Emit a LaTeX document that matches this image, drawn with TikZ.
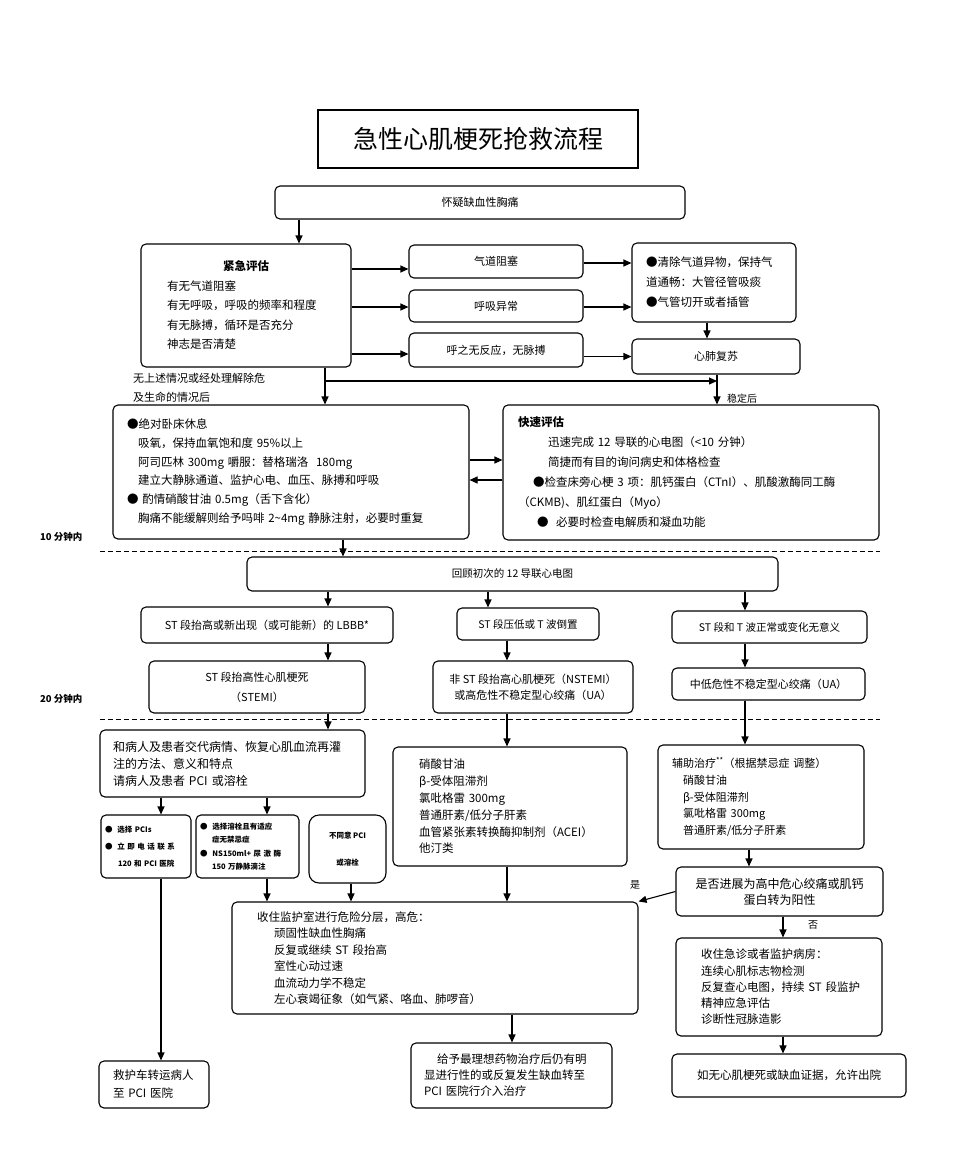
\documentclass[tikz,border=0pt]{standalone}
\usepackage{fontspec}
\setmainfont{Noto Sans CJK SC}
\usetikzlibrary{arrows.meta}

\tikzset{
  box/.style={draw, line width=1.1pt, rounded corners=5pt, inner sep=0pt, align=center, font=\fontsize{11}{16}\selectfont},
  lbox/.style={box, align=left},
  arr/.style={line width=1.1pt, -{Triangle[length=8pt,width=7pt]}},
  cut/.style={line width=1pt, dash pattern=on 5pt off 3pt},
  lbl/.style={inner sep=0pt, font=\fontsize{10}{12}\selectfont},
}

\begin{document}
\begin{tikzpicture}[x=1pt,y=1pt,yscale=-1,xscale=1]
        \useasboundingbox (0,0) rectangle (958,1152);

        % Title
        \node[draw, line width=1.1pt, minimum width=320, minimum height=58, inner sep=0pt, font=\fontsize{25}{30}\selectfont] (title) at (478,139) {急性心肌梗死抢救流程};

        % Top row
        \node[box, minimum width=410, minimum height=33] (chest) at (480,202.5) {怀疑缺血性胸痛};
        \node[lbox, minimum width=210, minimum height=123, text width=158, font=\fontsize{11.5}{19.5}\selectfont] (urgent) at (246,305.5)
          {\makebox[\linewidth]{\bfseries 紧急评估}\\有无气道阻塞\\有无呼吸，呼吸的频率和程度\\有无脉搏，循环是否充分\\神志是否清楚};
        \node[box, minimum width=174, minimum height=33] (airway) at (496,261.5) {气道阻塞};
        \node[box, minimum width=174, minimum height=32] (breath) at (496,306) {呼吸异常};
        \node[box, minimum width=174, minimum height=34] (noresp) at (496,350) {呼之无反应，无脉搏};
        \node[lbox, minimum width=164, minimum height=79, text width=136, font=\fontsize{11.5}{20}\selectfont] (clear) at (714,282.5)
          {●清除气道异物，保持气\\道通畅：大管径管吸痰\\●气管切开或者插管};
        \node[box, minimum width=168, minimum height=35] (cpr) at (716,356.5) {心肺复苏};

        % Text Node
        \node[lbl, anchor=west, align=left, font=\fontsize{11}{19}\selectfont] (okay) at (133,387.5) {无上述情况或经处理解除危\\及生命的情况后};
        \node[lbl, anchor=west] (stab) at (727,399) {稳定后};

        % Second row
        \node[lbox, minimum width=356, minimum height=134, text width=328, font=\fontsize{11.5}{18.8}\selectfont] (rest) at (291,472)
          {●绝对卧床休息\\
           \hspace*{11pt}吸氧，保持血氧饱和度 95\%以上\\
           \hspace*{11pt}阿司匹林 300mg 嚼服：替格瑞洛~~180mg\\
           \hspace*{11pt}建立大静脉通道、监护心电、血压、脉搏和呼吸\\
           ●~酌情硝酸甘油 0.5mg（舌下含化）\\
           \hspace*{11pt}胸痛不能缓解则给予吗啡 2\textasciitilde 4mg 静脉注射，必要时重复};
        \node[lbox, minimum width=376, minimum height=135, text width=346, font=\fontsize{11.5}{20}\selectfont] (quick) at (691,472.5)
          {\textbf{快速评估}\\
           \hspace*{30pt}迅速完成 12 导联的心电图（<10 分钟）\\
           \hspace*{30pt}简捷而有目的询问病史和体格检查\\
           \hspace*{15pt}●检查床旁心梗 3 项：肌钙蛋白（CTnI）、肌酸激酶同工酶\\
           （CKMB)、肌红蛋白（Myo）\\
           \hspace*{19pt}●~~必要时检查电解质和凝血功能};

        % Time marks
        \node[lbl, anchor=west, font=\bfseries\fontsize{9.5}{12}\selectfont] (ten) at (40,537) {10 分钟内};
        \node[lbl, anchor=west, font=\bfseries\fontsize{9.5}{12}\selectfont] (twenty) at (40,699) {20 分钟内};
        \draw[cut] (100,551) -- (880,551);
        \draw[cut] (100,719) -- (880,719);

        % ECG rows
        \node[box, minimum width=531, minimum height=34, font=\fontsize{10.5}{12}\selectfont] (review) at (512.5,574) {回顾初次的 12 导联心电图};
        \node[box, minimum width=252, minimum height=36] (stup) at (267,625) {ST 段抬高或新出现（或可能新）的 LBBB*};
        \node[box, minimum width=142, minimum height=32, font=\fontsize{10.5}{12}\selectfont] (stdown) at (528,624) {ST 段压低或 T 波倒置};
        \node[box, minimum width=195, minimum height=32, font=\fontsize{10.5}{12}\selectfont] (stnorm) at (769.5,627) {ST 段和 T 波正常或变化无意义};
        \node[box, minimum width=216, minimum height=52, font=\fontsize{11}{20}\selectfont] (stemi) at (257,687) {ST 段抬高性心肌梗死\\（STEMI）};
        \node[box, minimum width=200, minimum height=52] (nstemi) at (533,687) {非 ST 段抬高心肌梗死（NSTEMI）\\或高危性不稳定型心绞痛（UA）};
        \node[box, minimum width=193, minimum height=32] (ua) at (768.5,684) {中低危性不稳定型心绞痛（UA）};

        % Treatment rows
        \node[lbox, minimum width=265, minimum height=67, text width=239, font=\fontsize{12}{17}\selectfont] (talk) at (232.5,763.5)
          {和病人及患者交代病情、恢复心肌血流再灌\\注的方法、意义和特点\\请病人及患者 PCI 或溶栓};
        \node[lbox, minimum width=90, minimum height=63, text width=82, font=\bfseries\fontsize{7.5}{17}\selectfont] (pci) at (146,846.5)
          {●~~选择 PCIs\\●~~立 即 电 话 联 系\\\hspace*{13pt}120 和 PCI 医院};
        \node[lbox, minimum width=103, minimum height=63, text width=95, font=\bfseries\fontsize{7.5}{13.5}\selectfont] (lysis) at (247.5,846.5)
          {●~~选择溶栓且有适应\\\hspace*{12pt}症无禁忌症\\●~~NS150ml+ 尿 激 酶\\\hspace*{12pt}150 万静脉滴注};
        \node[box, rounded corners=10pt, minimum width=77, minimum height=68, font=\bfseries\fontsize{7.5}{27}\selectfont] (refuse) at (347.5,849) {不同意 PCI\\或溶栓};
        \node[lbox, minimum width=234, minimum height=119, text width=182, font=\fontsize{11.5}{16.8}\selectfont] (drugs) at (510,806.5)
          {硝酸甘油\\β-受体阻滞剂\\氯吡格雷 300mg\\普通肝素/低分子肝素\\血管紧张素转换酶抑制剂（ACEI）\\他汀类};
        \node[lbox, minimum width=206, minimum height=104, text width=178, font=\fontsize{11}{16.75}\selectfont] (aux) at (761,797)
          {辅助治疗\textsuperscript{**}（根据禁忌症 调整）\\
           \hspace*{11pt}硝酸甘油\\\hspace*{11pt}β-受体阻滞剂\\\hspace*{11pt}氯吡格雷 300mg\\\hspace*{11pt}普通肝素/低分子肝素};
        \node[box, minimum width=207, minimum height=49, font=\fontsize{12}{16}\selectfont] (progress) at (779.5,891.5) {是否进展为高中危心绞痛或肌钙\\蛋白转为阳性};

        % Bottom rows
        \node[lbox, minimum width=406, minimum height=112, text width=356, font=\fontsize{11.5}{16.5}\selectfont] (monitor) at (435,958)
          {收住监护室进行危险分层，高危：\\
           \hspace*{17pt}顽固性缺血性胸痛\\\hspace*{17pt}反复或继续 ST 段抬高\\\hspace*{17pt}室性心动过速\\
           \hspace*{17pt}血流动力学不稳定\\\hspace*{17pt}左心衰竭征象（如气紧、咯血、肺啰音）};
        \node[lbox, minimum width=206, minimum height=98, text width=156, font=\fontsize{11.5}{16.25}\selectfont] (er) at (779,987)
          {收住急诊或者监护病房：\\连续心肌标志物检测\\反复查心电图，持续~ST~段监护\\精神应急评估\\诊断性冠脉造影};
        \node[lbox, minimum width=201, minimum height=65, text width=175, font=\fontsize{11.5}{16}\selectfont] (optimal) at (511.5,1075.5)
          {\hspace*{13pt}给予最理想药物治疗后仍有明\\显进行性的或反复发生缺血转至\\PCI 医院行介入治疗};
        \node[box, minimum width=234, minimum height=43, font=\fontsize{11.5}{14}\selectfont] (final) at (789,1075.5) {如无心肌梗死或缺血证据，允许出院};
        \node[lbox, minimum width=110, minimum height=47, text width=82, font=\fontsize{11.5}{18}\selectfont] (ambul) at (154,1084.5) {救护车转运病人\\至 PCI 医院};

        % Text Node
        \node[lbl] (yes) at (635,885) {是};
        \node[lbl] (no) at (813,925) {否};

        %Straight Lines
        \draw[arr] (chest.south -| 299,0) -- (urgent.north -| 299,0);
        \draw[arr] (urgent.east |- 0,269) -- (airway.west |- 0,269);
        \draw[arr] (urgent.east |- 0,307) -- (breath.west |- 0,307);
        \draw[arr] (urgent.east |- 0,354) -- (noresp.west |- 0,354);
        \draw[arr] (airway.east |- 0,263) -- (clear.west |- 0,263);
        \draw[arr] (breath.east |- 0,307) -- (clear.west |- 0,307);
        \draw[arr] (noresp.east |- cpr.west) -- (cpr.west);
        \draw[arr] (clear.south -| 707,0) -- (cpr.north -| 707,0);
        \draw[arr] (urgent.south -| 325,0) -- (rest.north -| 325,0);
        \coordinate (split) at (325,381);
        \draw[arr] (split) -- (split -| 717,0);
        \draw[arr] (cpr.south -| 717,0) -- (quick.north -| 717,0);
        \draw[arr] (rest.east |- 0,460) -- (quick.west |- 0,460);
        \draw[arr] (quick.west |- 0,480) -- (rest.east |- 0,480);
        %Straight Lines
        \draw[arr] (rest.south -| 343,0) -- (review.north -| 343,0);
        \draw[arr] (review.south -| 328,0) -- (stup.north -| 328,0);
        \draw[arr] (review.south -| 488,0) -- (stdown.north -| 488,0);
        \draw[arr] (review.south -| 745,0) -- (stnorm.north -| 745,0);
        \draw[arr] (stup.south -| 328,0) -- (stemi.north -| 328,0);
        \draw[arr] (stdown.south -| 507,0) -- (nstemi.north -| 507,0);
        \draw[arr] (stnorm.south -| 745,0) -- (ua.north -| 745,0);
        \draw[arr] (stemi.south -| 328,0) -- (talk.north -| 328,0);
        \draw[arr] (nstemi.south -| 507,0) -- (drugs.north -| 507,0);
        \draw[arr] (ua.south -| 745,0) -- (aux.north -| 745,0);
        %Straight Lines
        \draw[arr] (talk.south -| 161,0) -- (pci.north -| 161,0);
        \draw[arr] (talk.south -| 267,0) -- (lysis.north -| 267,0);
        \draw[arr] (pci.south -| 161,0) -- (ambul.north -| 161,0);
        \draw[arr] (lysis.south -| 267,0) -- (monitor.north -| 267,0);
        \draw[arr] (refuse.south -| 351,0) -- (monitor.north -| 351,0);
        \draw[arr] (drugs.south -| 507,0) -- (monitor.north -| 507,0);
        \draw[arr] (aux.south -| 749,0) -- (progress.north -| 749,0);
        \draw[arr] (progress.west) -- (monitor.north east);
        \draw[arr] (progress.south -| 783,0) -- (er.north -| 783,0);
        \draw[arr] (er.south -| 783,0) -- (final.north -| 783,0);
        \draw[arr] (monitor.south -| 512,0) -- (optimal.north -| 512,0);

\end{tikzpicture}
\end{document}
